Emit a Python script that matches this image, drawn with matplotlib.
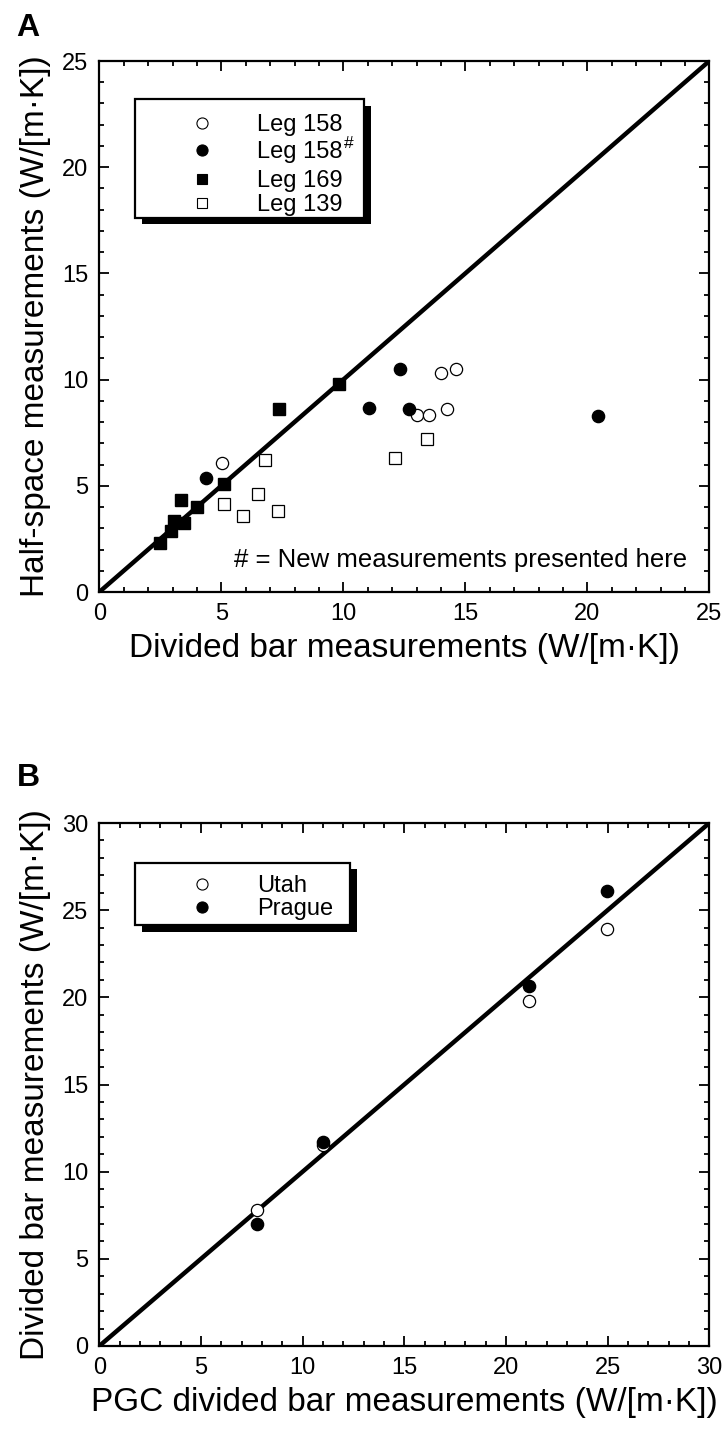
import matplotlib
matplotlib.use("Agg")
import matplotlib.pyplot as plt
from matplotlib.patches import Rectangle
from matplotlib.ticker import MultipleLocator

plt.rcParams['font.family'] = ['Liberation Sans', 'DejaVu Sans']

# Panel A: half-space vs divided bar conductivity, W/(m K)
leg158_x = [5.03, 14.0, 14.63, 13.02, 13.51, 14.24]
leg158_y = [6.09, 10.30, 10.48, 8.35, 8.35, 8.60]

leg158new_x = [4.39, 12.31, 11.07, 12.68, 20.42]
leg158new_y = [5.38, 10.50, 8.68, 8.60, 8.29]

leg169_x = [9.81, 7.35, 5.10, 3.35, 4.0, 3.05, 3.46, 2.95, 2.50]
leg169_y = [9.79, 8.60, 5.07, 4.33, 4.02, 3.33, 3.23, 2.89, 2.32]

leg139_x = [6.80, 5.10, 5.89, 6.50, 7.31, 12.13, 13.42]
leg139_y = [6.21, 4.13, 3.59, 4.61, 3.80, 6.32, 7.22]

# Panel B: divided bar vs PGC divided bar
pgc_x = [7.75, 11.0, 21.15, 24.95]
utah_y = [7.8, 11.55, 19.8, 23.9]
prague_y = [7.0, 11.7, 20.65, 26.1]

W, H = 727, 1429
fig = plt.figure(figsize=(W / 100, H / 100), dpi=100)

axA = fig.add_axes([99.3 / W, 1 - 592 / H, 610 / W, 531 / H])
axB = fig.add_axes([99.3 / W, 1 - 1346 / H, 610 / W, 523 / H])

TICK_FS = 17
LABEL_FS = 24
LEG_FS = 17


def style_axes(ax, lim):
    ax.set_xlim(0, lim)
    ax.set_ylim(0, lim)
    ax.xaxis.set_major_locator(MultipleLocator(5))
    ax.yaxis.set_major_locator(MultipleLocator(5))
    ax.xaxis.set_minor_locator(MultipleLocator(1))
    ax.yaxis.set_minor_locator(MultipleLocator(1))
    ax.tick_params(which='both', direction='in', top=True, right=True,
                   labelsize=TICK_FS, width=1.3)
    ax.tick_params(which='major', length=7, pad=8)
    ax.tick_params(which='minor', length=3.5)
    for s in ax.spines.values():
        s.set_linewidth(1.6)
    ax.plot([0, lim], [0, lim], color='black', lw=3.2, zorder=2,
            solid_capstyle='butt', clip_on=True)


def draw_legend(ax, x0, x1, y0, y1, rows, labels, shadow=0.011):
    # shadow block offset right/down, then the white box on top
    sx = shadow
    sy = shadow * ax.bbox.width / ax.bbox.height
    ax.add_patch(Rectangle((x0 + sx, y0 - sy), x1 - x0, y1 - y0,
                           transform=ax.transAxes, facecolor='black',
                           edgecolor='black', lw=0, zorder=5, clip_on=False))
    ax.add_patch(Rectangle((x0, y0), x1 - x0, y1 - y0,
                           transform=ax.transAxes, facecolor='white',
                           edgecolor='black', lw=1.6, zorder=6, clip_on=False))
    texts = []
    for (yy, mk, fc), lab in zip(rows, labels):
        ax.plot([0.168], [yy], marker=mk, ms=8 if mk == 'o' else 7,
                mfc=fc, mec='black', mew=0.8, transform=ax.transAxes,
                zorder=7, clip_on=False)
        texts.append(ax.text(0.258, yy - 0.004, lab, transform=ax.transAxes,
                             fontsize=LEG_FS, va='center', ha='left',
                             zorder=7))
    return texts


style_axes(axA, 25)
ms_c, ms_s = 8.8, 9.0
axA.plot(leg158_x, leg158_y, 'o', ms=ms_c, mfc='white', mec='black',
         mew=0.9, zorder=3)
axA.plot(leg158new_x, leg158new_y, 'o', ms=ms_c, mfc='black', mec='black',
         zorder=3)
axA.plot(leg169_x, leg169_y, 's', ms=ms_s, mfc='black', mec='black',
         zorder=3)
axA.plot(leg139_x, leg139_y, 's', ms=ms_s, mfc='white', mec='black',
         mew=0.9, zorder=3)

rowsA = [(0.883, 'o', 'white'), (0.832, 'o', 'black'),
         (0.778, 's', 'black'), (0.733, 's', 'white')]
labelsA = ['Leg 158', 'Leg 158', 'Leg 169', 'Leg 139']
legA_texts = draw_legend(axA, 0.0585, 0.434, 0.705, 0.928, rowsA, labelsA)
axA.annotate('#', xy=(1.0, 0.92), xycoords=legA_texts[1],
             xytext=(1, 0), textcoords='offset points',
             fontsize=12.5, ha='left', va='center', zorder=9)

axA.text(0.963, 0.06, '# = New measurements presented here',
         transform=axA.transAxes, fontsize=18.5, ha='right', va='center')

axA.set_xlabel('Divided bar measurements (W/[m·K])', fontsize=LABEL_FS,
               labelpad=6)
axA.set_ylabel('Half-space measurements (W/[m·K])', fontsize=LABEL_FS,
               labelpad=8)

style_axes(axB, 30)
axB.plot(pgc_x, utah_y, 'o', ms=ms_c, mfc='white', mec='black', mew=0.9,
         zorder=3)
axB.plot(pgc_x, prague_y, 'o', ms=ms_c, mfc='black', mec='black', zorder=3)

rowsB = [(0.883, 'o', 'white'), (0.840, 'o', 'black')]
draw_legend(axB, 0.0585, 0.411, 0.805, 0.924, rowsB, ['Utah', 'Prague'])

axB.set_xlabel('PGC divided bar measurements (W/[m·K])', fontsize=LABEL_FS,
               labelpad=6)
axB.set_ylabel('Divided bar measurements (W/[m·K])', fontsize=LABEL_FS,
               labelpad=8)

fig.text(28 / W, 1 - 28 / H, 'A', fontsize=23, fontweight='bold',
         ha='center', va='center')
fig.text(28 / W, 1 - 778 / H, 'B', fontsize=23, fontweight='bold',
         ha='center', va='center')

fig.savefig('out.png', dpi=100)
